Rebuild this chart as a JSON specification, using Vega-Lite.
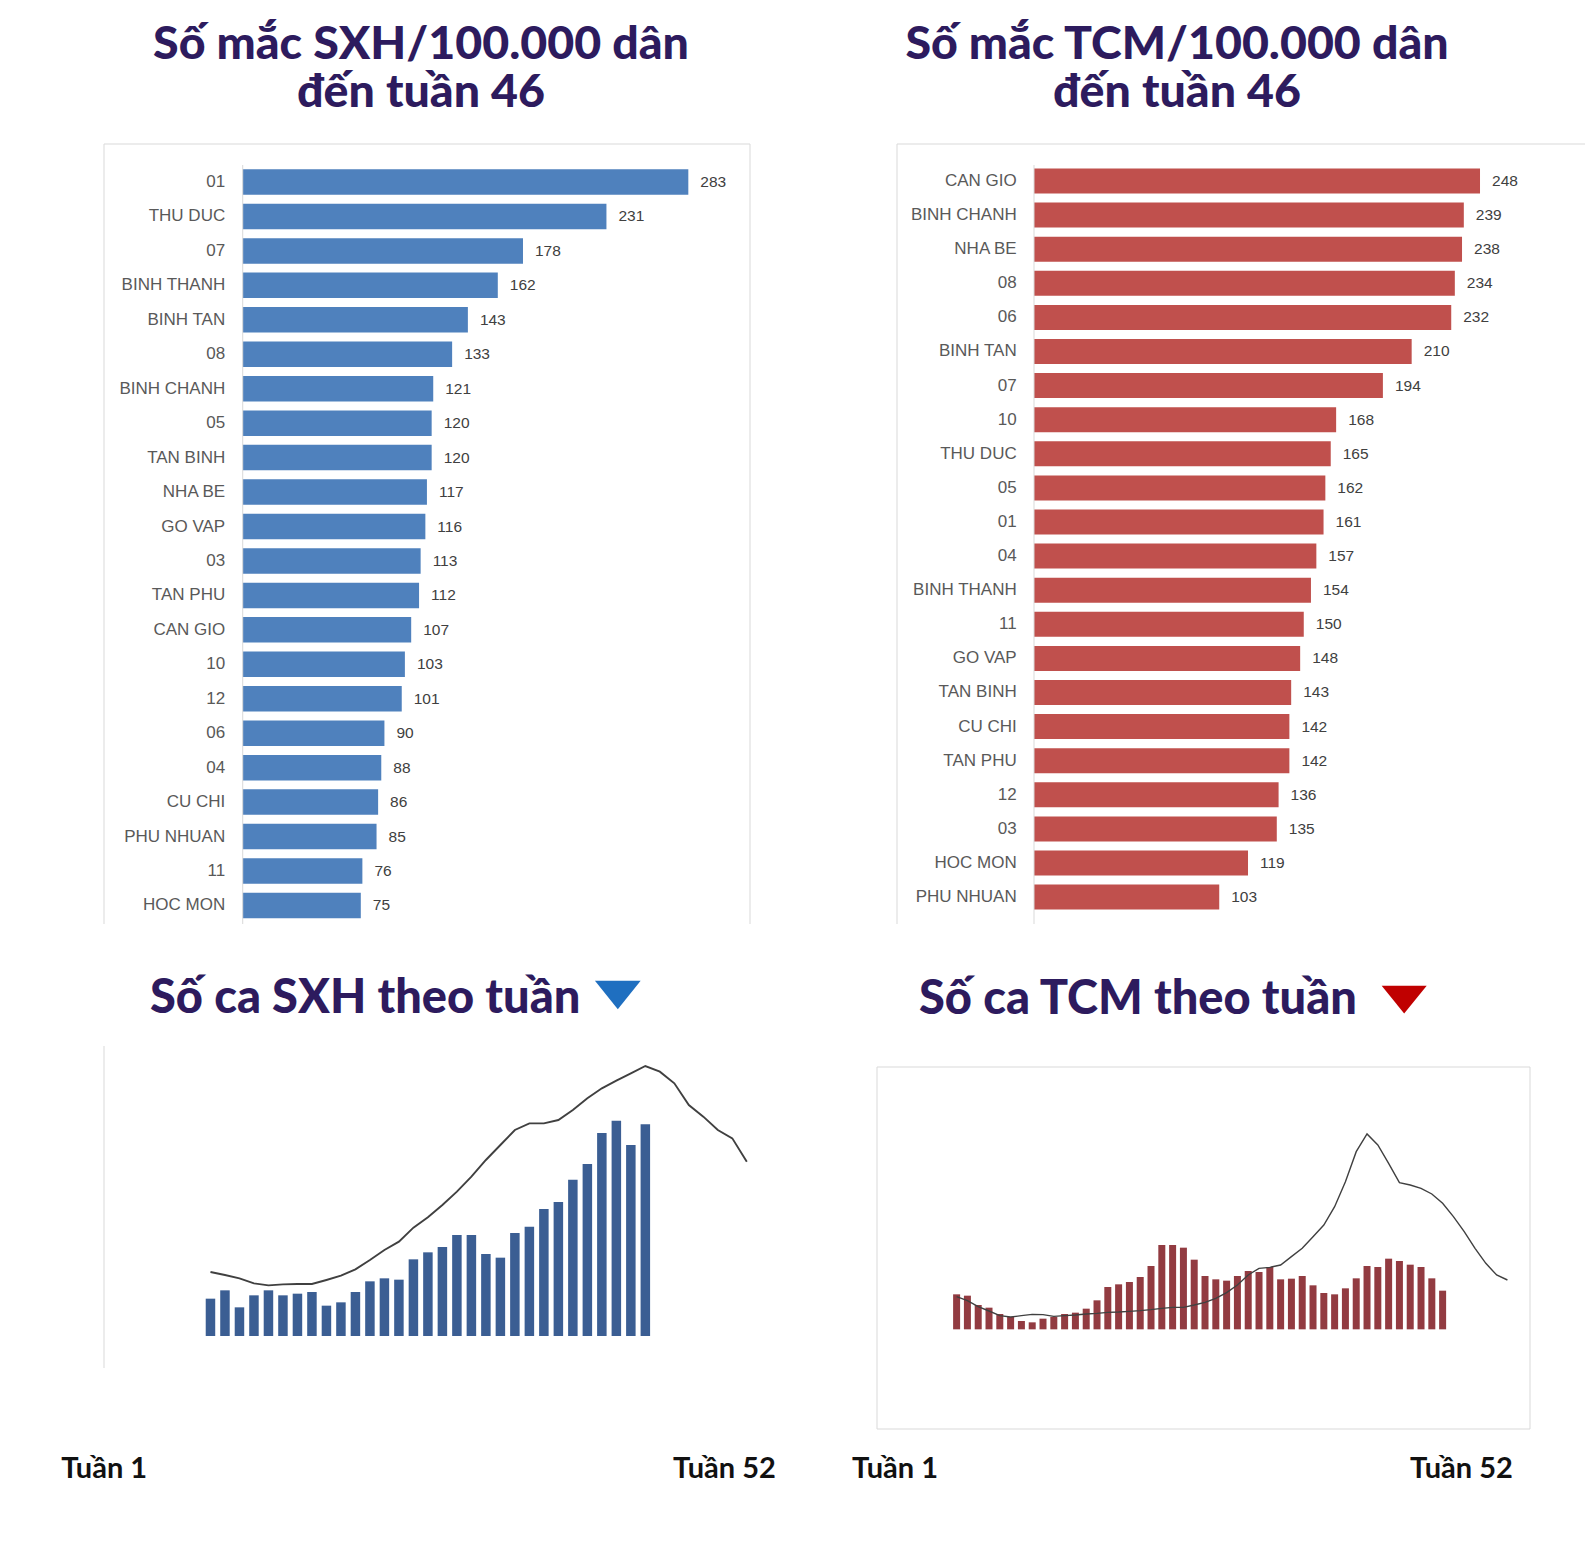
{
  "$schema": "https://vega.github.io/schema/vega-lite/v6.json",
  "background": "white",
  "padding": {"left": 61, "top": 22, "right": 0, "bottom": 0},
  "bounds": "flush",
  "columns": 2,
  "align": {"row": "each", "column": "none"},
  "spacing": {"row": 122, "column": 147},
  "config": {
    "view": {"stroke": null},
    "axis": {"disable": true},
    "title": {"font": "Lato", "fontWeight": 900, "color": "#2d1b5e", "frame": "group"}
  },
  "datasets": {
    "sxh_district": [
      {"district": "01", "rate": 283, "rank": 1},
      {"district": "THU DUC", "rate": 231, "rank": 2},
      {"district": "07", "rate": 178, "rank": 3},
      {"district": "BINH THANH", "rate": 162, "rank": 4},
      {"district": "BINH TAN", "rate": 143, "rank": 5},
      {"district": "08", "rate": 133, "rank": 6},
      {"district": "BINH CHANH", "rate": 121, "rank": 7},
      {"district": "05", "rate": 120, "rank": 8},
      {"district": "TAN BINH", "rate": 120, "rank": 9},
      {"district": "NHA BE", "rate": 117, "rank": 10},
      {"district": "GO VAP", "rate": 116, "rank": 11},
      {"district": "03", "rate": 113, "rank": 12},
      {"district": "TAN PHU", "rate": 112, "rank": 13},
      {"district": "CAN GIO", "rate": 107, "rank": 14},
      {"district": "10", "rate": 103, "rank": 15},
      {"district": "12", "rate": 101, "rank": 16},
      {"district": "06", "rate": 90, "rank": 17},
      {"district": "04", "rate": 88, "rank": 18},
      {"district": "CU CHI", "rate": 86, "rank": 19},
      {"district": "PHU NHUAN", "rate": 85, "rank": 20},
      {"district": "11", "rate": 76, "rank": 21},
      {"district": "HOC MON", "rate": 75, "rank": 22}
    ],
    "tcm_district": [
      {"district": "CAN GIO", "rate": 248, "rank": 1},
      {"district": "BINH CHANH", "rate": 239, "rank": 2},
      {"district": "NHA BE", "rate": 238, "rank": 3},
      {"district": "08", "rate": 234, "rank": 4},
      {"district": "06", "rate": 232, "rank": 5},
      {"district": "BINH TAN", "rate": 210, "rank": 6},
      {"district": "07", "rate": 194, "rank": 7},
      {"district": "10", "rate": 168, "rank": 8},
      {"district": "THU DUC", "rate": 165, "rank": 9},
      {"district": "05", "rate": 162, "rank": 10},
      {"district": "01", "rate": 161, "rank": 11},
      {"district": "04", "rate": 157, "rank": 12},
      {"district": "BINH THANH", "rate": 154, "rank": 13},
      {"district": "11", "rate": 150, "rank": 14},
      {"district": "GO VAP", "rate": 148, "rank": 15},
      {"district": "TAN BINH", "rate": 143, "rank": 16},
      {"district": "CU CHI", "rate": 142, "rank": 17},
      {"district": "TAN PHU", "rate": 142, "rank": 18},
      {"district": "12", "rate": 136, "rank": 19},
      {"district": "03", "rate": 135, "rank": 20},
      {"district": "HOC MON", "rate": 119, "rank": 21},
      {"district": "PHU NHUAN", "rate": 103, "rank": 22}
    ],
    "sxh_week": [
      {"w": 1, "cases": 112, "prev": 192}, {"w": 2, "cases": 137, "prev": 183}, {"w": 3, "cases": 86, "prev": 173},
      {"w": 4, "cases": 122, "prev": 158}, {"w": 5, "cases": 137, "prev": 152}, {"w": 6, "cases": 122, "prev": 155},
      {"w": 7, "cases": 127, "prev": 156}, {"w": 8, "cases": 132, "prev": 156}, {"w": 9, "cases": 91, "prev": 168},
      {"w": 10, "cases": 101, "prev": 181}, {"w": 11, "cases": 132, "prev": 200}, {"w": 12, "cases": 164, "prev": 228},
      {"w": 13, "cases": 173, "prev": 258}, {"w": 14, "cases": 169, "prev": 283}, {"w": 15, "cases": 230, "prev": 325},
      {"w": 16, "cases": 251, "prev": 356}, {"w": 17, "cases": 267, "prev": 393}, {"w": 18, "cases": 303, "prev": 433},
      {"w": 19, "cases": 303, "prev": 478}, {"w": 20, "cases": 246, "prev": 528}, {"w": 21, "cases": 235, "prev": 573},
      {"w": 22, "cases": 309, "prev": 618}, {"w": 23, "cases": 328, "prev": 638}, {"w": 24, "cases": 381, "prev": 638},
      {"w": 25, "cases": 402, "prev": 648}, {"w": 26, "cases": 469, "prev": 678}, {"w": 27, "cases": 516, "prev": 713},
      {"w": 28, "cases": 609, "prev": 743}, {"w": 29, "cases": 646, "prev": 766}, {"w": 30, "cases": 573, "prev": 788},
      {"w": 31, "cases": 635, "prev": 810}, {"w": 32, "cases": null, "prev": 793}, {"w": 33, "cases": null, "prev": 758},
      {"w": 34, "cases": null, "prev": 693}, {"w": 35, "cases": null, "prev": 658}, {"w": 36, "cases": null, "prev": 618},
      {"w": 37, "cases": null, "prev": 593}, {"w": 38, "cases": null, "prev": 523}
    ],
    "tcm_week": [
      {"w": 1, "cases": 105, "prev": 98}, {"w": 2, "cases": 101, "prev": 86}, {"w": 3, "cases": 73, "prev": 68},
      {"w": 4, "cases": 65, "prev": 55}, {"w": 5, "cases": 46, "prev": 41}, {"w": 6, "cases": 37, "prev": 37},
      {"w": 7, "cases": 25, "prev": 41}, {"w": 8, "cases": 21, "prev": 45}, {"w": 9, "cases": 32, "prev": 44},
      {"w": 10, "cases": 37, "prev": 39}, {"w": 11, "cases": 46, "prev": 41}, {"w": 12, "cases": 50, "prev": 43},
      {"w": 13, "cases": 62, "prev": 46}, {"w": 14, "cases": 87, "prev": 48}, {"w": 15, "cases": 127, "prev": 51},
      {"w": 16, "cases": 135, "prev": 52}, {"w": 17, "cases": 142, "prev": 54}, {"w": 18, "cases": 157, "prev": 56},
      {"w": 19, "cases": 190, "prev": 59}, {"w": 20, "cases": 253, "prev": 63}, {"w": 21, "cases": 253, "prev": 66},
      {"w": 22, "cases": 245, "prev": 66}, {"w": 23, "cases": 209, "prev": 73}, {"w": 24, "cases": 160, "prev": 81},
      {"w": 25, "cases": 150, "prev": 93}, {"w": 26, "cases": 146, "prev": 110}, {"w": 27, "cases": 160, "prev": 133},
      {"w": 28, "cases": 175, "prev": 163}, {"w": 29, "cases": 172, "prev": 183}, {"w": 30, "cases": 187, "prev": 186},
      {"w": 31, "cases": 150, "prev": 193}, {"w": 32, "cases": 152, "prev": 218}, {"w": 33, "cases": 160, "prev": 243},
      {"w": 34, "cases": 132, "prev": 278}, {"w": 35, "cases": 109, "prev": 313}, {"w": 36, "cases": 105, "prev": 368},
      {"w": 37, "cases": 123, "prev": 443}, {"w": 38, "cases": 153, "prev": 533}, {"w": 39, "cases": 190, "prev": 586},
      {"w": 40, "cases": 187, "prev": 553}, {"w": 41, "cases": 212, "prev": 498}, {"w": 42, "cases": 205, "prev": 440},
      {"w": 43, "cases": 194, "prev": 433}, {"w": 44, "cases": 187, "prev": 423}, {"w": 45, "cases": 153, "prev": 406},
      {"w": 46, "cases": 116, "prev": 378}, {"w": 47, "cases": null, "prev": 338}, {"w": 48, "cases": null, "prev": 293},
      {"w": 49, "cases": null, "prev": 243}, {"w": 50, "cases": null, "prev": 198}, {"w": 51, "cases": null, "prev": 163},
      {"w": 52, "cases": null, "prev": 148}
    ]
  },
  "concat": [
    {
      "width": 646,
      "height": 780,
      "title": {"text": ["Số mắc SXH/100.000 dân", "đến tuần 46"], "fontSize": 46.5, "lineHeight": 48, "anchor": "middle", "dx": -6, "offset": 27},
      "data": {"name": "sxh_district"},
      "layer": [
        {
          "mark": {"type": "bar", "orient": "horizontal", "size": 25.5, "color": "#4f81bd"},
          "encoding": {
            "x": {"field": "rate", "type": "quantitative", "scale": {"domain": [-88.09, 322.17], "nice": false, "zero": false, "padding": 0}},
            "y": {"field": "rank", "type": "quantitative", "scale": {"domain": [-0.103, 22.538], "reverse": true, "nice": false, "zero": false, "padding": 0}}
          }
        },
        {
          "mark": {"type": "text", "align": "left", "baseline": "middle", "dx": 12, "font": "Liberation Sans", "fontSize": 15.5, "color": "#404040"},
          "encoding": {
            "x": {"field": "rate", "type": "quantitative"},
            "y": {"field": "rank", "type": "quantitative"},
            "text": {"field": "rate", "type": "quantitative"}
          }
        },
        {
          "mark": {"type": "text", "align": "right", "baseline": "middle", "dx": -17.5, "font": "Liberation Sans", "fontSize": 17, "color": "#595959"},
          "encoding": {
            "x": {"datum": 0},
            "y": {"field": "rank", "type": "quantitative"},
            "text": {"field": "district", "type": "nominal"}
          }
        },
        {"data": {"values": [{}]}, "mark": {"type": "rule", "color": "#d9d9d9"}, "encoding": {"x": {"datum": -88.09}}},
        {"data": {"values": [{}]}, "mark": {"type": "rule", "color": "#d9d9d9"}, "encoding": {"x": {"datum": 322.17}}},
        {"data": {"values": [{}]}, "mark": {"type": "rule", "color": "#d9d9d9"}, "encoding": {"y": {"datum": -0.103}}},
        {"data": {"values": [{}]}, "mark": {"type": "rule", "color": "#d9d9d9"}, "encoding": {"x": {"datum": 0}, "y": {"datum": 0.507}, "y2": {"datum": 22.538}}}
      ]
    },
    {
      "width": 688,
      "height": 780,
      "title": {"text": ["Số mắc TCM/100.000 dân", "đến tuần 46"], "fontSize": 46.5, "lineHeight": 48, "anchor": "middle", "dx": -64, "offset": 27},
      "data": {"name": "tcm_district"},
      "layer": [
        {
          "mark": {"type": "bar", "orient": "horizontal", "size": 25, "color": "#c0504d"},
          "encoding": {
            "x": {"field": "rate", "type": "quantitative", "scale": {"domain": [-76.18, 306.38], "nice": false, "zero": false, "padding": 0}},
            "y": {"field": "rank", "type": "quantitative", "scale": {"domain": [-0.085, 22.789], "reverse": true, "nice": false, "zero": false, "padding": 0}}
          }
        },
        {
          "mark": {"type": "text", "align": "left", "baseline": "middle", "dx": 12, "font": "Liberation Sans", "fontSize": 15.5, "color": "#404040"},
          "encoding": {
            "x": {"field": "rate", "type": "quantitative"},
            "y": {"field": "rank", "type": "quantitative"},
            "text": {"field": "rate", "type": "quantitative"}
          }
        },
        {
          "mark": {"type": "text", "align": "right", "baseline": "middle", "dx": -17.3, "font": "Liberation Sans", "fontSize": 17, "color": "#595959"},
          "encoding": {
            "x": {"datum": 0},
            "y": {"field": "rank", "type": "quantitative"},
            "text": {"field": "district", "type": "nominal"}
          }
        },
        {"data": {"values": [{}]}, "mark": {"type": "rule", "color": "#d9d9d9"}, "encoding": {"x": {"datum": -76.18}}},
        {"data": {"values": [{}]}, "mark": {"type": "rule", "color": "#d9d9d9"}, "encoding": {"y": {"datum": -0.085}}},
        {"data": {"values": [{}]}, "mark": {"type": "rule", "color": "#d9d9d9"}, "encoding": {"x": {"datum": 0}, "y": {"datum": 0.53}, "y2": {"datum": 22.789}}}
      ]
    },
    {
      "width": 626,
      "height": 322,
      "title": {"text": "Số ca SXH theo tuần", "fontSize": 47, "anchor": "start", "dx": 46, "offset": -42},
      "data": {"name": "sxh_week"},
      "layer": [
        {
          "transform": [{"filter": "isValid(datum.cases)"}],
          "mark": {"type": "bar", "orient": "vertical", "size": 9.5, "color": "#3b5e93"},
          "encoding": {
            "x": {"field": "w", "type": "quantitative", "scale": {"domain": [-6.345, 36.84], "nice": false, "zero": false, "padding": 0}},
            "y": {"field": "cases", "type": "quantitative", "scale": {"domain": [-96, 870], "nice": false, "zero": false, "padding": 0}}
          }
        },
        {
          "mark": {"type": "line", "color": "#404040", "strokeWidth": 1.9},
          "encoding": {
            "x": {"field": "w", "type": "quantitative"},
            "y": {"field": "prev", "type": "quantitative"}
          }
        },
        {"data": {"values": [{}]}, "mark": {"type": "rule", "color": "#d9d9d9"}, "encoding": {"x": {"datum": -6.345}}},
        {
          "data": {"values": [{}]},
          "mark": {"type": "point", "shape": "M-1,-0.62L1,-0.62L0,0.62Z", "filled": true, "opacity": 1, "size": 2088, "color": "#1f6fc0"},
          "encoding": {"x": {"datum": 29.1}, "y": {"datum": 1023}}
        },
        {
          "data": {"values": [{}]},
          "mark": {"type": "text", "align": "left", "baseline": "alphabetic", "font": "Lato", "fontWeight": "bold", "fontSize": 29, "color": "#111111"},
          "encoding": {"x": {"datum": -9.3}, "y": {"datum": -426}, "text": {"value": "Tuần 1"}}
        },
        {
          "data": {"values": [{}]},
          "mark": {"type": "text", "align": "left", "baseline": "alphabetic", "font": "Lato", "fontWeight": "bold", "fontSize": 29, "color": "#111111"},
          "encoding": {"x": {"datum": 32.91}, "y": {"datum": -426}, "text": {"value": "Tuần 52"}}
        }
      ]
    },
    {
      "width": 633,
      "height": 383,
      "title": {"text": "Số ca TCM theo tuần", "fontSize": 47, "anchor": "start", "dx": 22, "offset": -38.5},
      "data": {"name": "tcm_week"},
      "layer": [
        {
          "transform": [{"filter": "isValid(datum.cases)"}],
          "mark": {"type": "bar", "orient": "vertical", "size": 7, "color": "#923b41"},
          "encoding": {
            "x": {"field": "w", "type": "quantitative", "scale": {"domain": [-4.519, 54.09], "nice": false, "zero": false, "padding": 0}},
            "y": {"field": "cases", "type": "quantitative", "scale": {"domain": [-299, 850], "nice": false, "zero": false, "padding": 0}}
          }
        },
        {
          "mark": {"type": "line", "color": "#404040", "strokeWidth": 1.4},
          "encoding": {
            "x": {"field": "w", "type": "quantitative"},
            "y": {"field": "prev", "type": "quantitative"}
          }
        },
        {"data": {"values": [{}]}, "mark": {"type": "rule", "color": "#d9d9d9"}, "encoding": {"x": {"datum": -6.37}, "x2": {"datum": 54.09}, "y": {"datum": 787}}},
        {"data": {"values": [{}]}, "mark": {"type": "rule", "color": "#d9d9d9"}, "encoding": {"x": {"datum": -6.37}, "x2": {"datum": 54.09}, "y": {"datum": -299}}},
        {"data": {"values": [{}]}, "mark": {"type": "rule", "color": "#d9d9d9"}, "encoding": {"x": {"datum": -6.37}, "y": {"datum": -299}, "y2": {"datum": 787}}},
        {"data": {"values": [{}]}, "mark": {"type": "rule", "color": "#d9d9d9"}, "encoding": {"x": {"datum": 54.09}, "y": {"datum": -299}, "y2": {"datum": 787}}},
        {
          "data": {"values": [{}]},
          "mark": {"type": "point", "shape": "M-1,-0.62L1,-0.62L0,0.62Z", "filled": true, "opacity": 1, "size": 2025, "color": "#c00000"},
          "encoding": {"x": {"datum": 42.44}, "y": {"datum": 989}}
        },
        {
          "data": {"values": [{}]},
          "mark": {"type": "text", "align": "left", "baseline": "alphabetic", "font": "Lato", "fontWeight": "bold", "fontSize": 29, "color": "#111111"},
          "encoding": {"x": {"datum": -8.685}, "y": {"datum": -446}, "text": {"value": "Tuần 1"}}
        },
        {
          "data": {"values": [{}]},
          "mark": {"type": "text", "align": "left", "baseline": "alphabetic", "font": "Lato", "fontWeight": "bold", "fontSize": 29, "color": "#111111"},
          "encoding": {"x": {"datum": 42.98}, "y": {"datum": -446}, "text": {"value": "Tuần 52"}}
        }
      ]
    }
  ]
}
